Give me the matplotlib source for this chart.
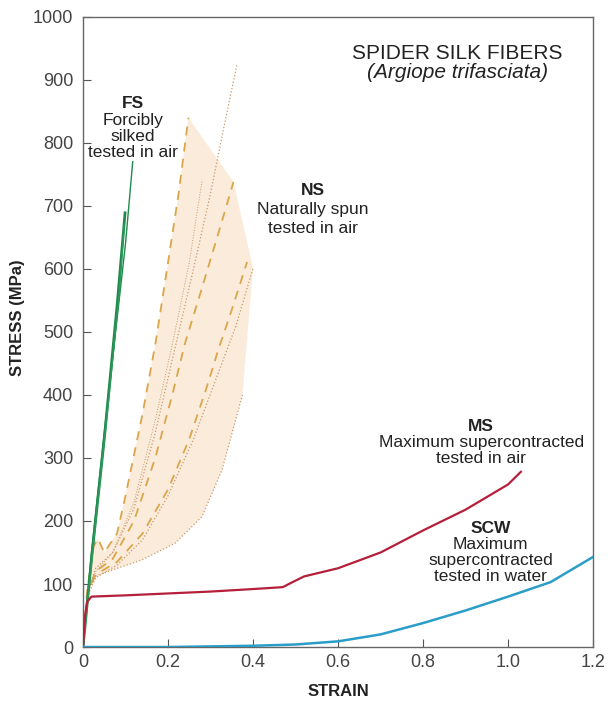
import numpy as np
import matplotlib.pyplot as plt

plt.rcParams['font.family'] = ['Liberation Sans', 'DejaVu Sans']

# FS - forcibly silked (green)
fs1_x = [0, 0.02, 0.05, 0.08, 0.10, 0.117]
fs1_y = [0, 150, 340, 520, 640, 770]
fs2_x = [0, 0.02, 0.05, 0.08, 0.099]
fs2_y = [0, 140, 330, 540, 689]
fs3_x = [0, 0.03, 0.06, 0.085, 0.097]
fs3_y = [0, 200, 390, 560, 670]

# NS - naturally spun (orange band)
ns1_x = [0, 0.01, 0.025, 0.035, 0.05, 0.08, 0.10, 0.14, 0.17, 0.20, 0.225, 0.248]
ns1_y = [0, 90, 160, 172, 150, 180, 240, 370, 480, 610, 720, 840]
ns2_x = [0, 0.01, 0.03, 0.07, 0.12, 0.17, 0.217, 0.26, 0.30, 0.33, 0.362]
ns2_y = [0, 85, 125, 150, 220, 340, 476, 600, 720, 820, 924]
ns3_x = [0, 0.01, 0.03, 0.07, 0.12, 0.17, 0.21, 0.25, 0.28]
ns3_y = [0, 85, 120, 150, 230, 360, 480, 610, 740]
ns4_x = [0, 0.01, 0.03, 0.07, 0.12, 0.17, 0.21, 0.24, 0.28, 0.32, 0.354]
ns4_y = [0, 85, 120, 140, 200, 300, 400, 482, 570, 660, 738]
ns5_x = [0, 0.01, 0.03, 0.08, 0.14, 0.20, 0.25, 0.29, 0.318, 0.35, 0.386]
ns5_y = [0, 85, 115, 135, 180, 250, 330, 410, 471, 535, 611]
ns6_x = [0, 0.01, 0.03, 0.08, 0.14, 0.20, 0.26, 0.31, 0.36, 0.40]
ns6_y = [0, 80, 110, 130, 170, 240, 330, 420, 510, 601]
ns7_x = [0, 0.0125, 0.028, 0.068, 0.138, 0.217, 0.28, 0.327, 0.375]
ns7_y = [0, 90, 112, 122, 138, 165, 207, 281, 400]

# MS - maximum supercontracted in air (red)
ms_x = [0, 0.005, 0.01, 0.02, 0.1, 0.2, 0.3, 0.4, 0.47, 0.49, 0.52, 0.6, 0.7, 0.8, 0.9, 1.0, 1.03]
ms_y = [0, 50, 72, 80, 82, 85, 88, 92, 95, 102, 112, 125, 150, 185, 218, 258, 278]

# SCW - maximum supercontracted in water (blue)
scw_x = [0, 0.1, 0.2, 0.3, 0.4, 0.5, 0.6, 0.7, 0.8, 0.9, 1.0, 1.1, 1.2]
scw_y = [0, 0, 0, 1, 2, 4, 9, 20, 38, 58, 80, 103, 143]

xticks = [0, 0.2, 0.4, 0.6, 0.8, 1.0, 1.2]
xtick_labels = ['0', '0.2', '0.4', '0.6', '0.8', '1.0', '1.2']

fig = plt.figure(figsize=(6.08, 7.01), dpi=100)
ax = fig.add_axes([0.1365, 0.077, 0.839, 0.899])

# shaded NS band
band_x = ns1_x + [ns4_x[-1], ns6_x[-1]] + ns7_x[::-1]
band_y = ns1_y + [ns4_y[-1], ns6_y[-1]] + ns7_y[::-1]
ax.fill(band_x, band_y, color='#f7d8b6', alpha=0.5, lw=0, zorder=1)

dash_c = '#dba64a'
dot_c = '#c99a6a'
ax.plot(ns1_x, ns1_y, '--', color=dash_c, lw=1.3, dashes=(5, 4), zorder=2)
ax.plot(ns4_x, ns4_y, '--', color=dash_c, lw=1.3, dashes=(5, 4), zorder=2)
ax.plot(ns5_x, ns5_y, '--', color=dash_c, lw=1.3, dashes=(5, 4), zorder=2)
ax.plot(ns2_x, ns2_y, ':', color=dot_c, lw=0.9, zorder=2)
ax.plot(ns3_x, ns3_y, ':', color=dot_c, lw=0.7, zorder=2)
ax.plot(ns6_x, ns6_y, ':', color=dot_c, lw=0.9, zorder=2)
ax.plot(ns7_x, ns7_y, ':', color=dot_c, lw=0.9, zorder=2)

ax.plot(fs1_x, fs1_y, color='#1f8a4c', lw=1.0, zorder=3)
ax.plot(fs2_x, fs2_y, color='#1f8a4c', lw=2.0, zorder=3)
ax.plot(fs3_x, fs3_y, color='#2e9a5a', lw=1.0, zorder=3)
ax.plot(ms_x, ms_y, color='#b51f3a', lw=1.6, zorder=3)
ax.plot(scw_x, scw_y, color='#2a9dc8', lw=1.8, zorder=3)

ax.set_xlim(0, 1.2)
ax.set_ylim(0, 1000)
ax.set_xticks(xticks)
ax.set_xticklabels(xtick_labels)
ax.set_yticks(range(0, 1001, 100))
ax.tick_params(direction='in', length=6, width=0.8, color='#555555',
               labelsize=13, labelcolor='#444444')
ax.tick_params(axis='x', pad=5)
ax.tick_params(axis='y', pad=7)
for s in ax.spines.values():
    s.set_color('#666666')
    s.set_linewidth(1.0)

ax.set_xlabel('STRAIN', fontsize=12, fontweight='bold', color='#222222')
ax.set_ylabel('STRESS (MPa)', fontsize=12, fontweight='bold', color='#222222')
ax.xaxis.set_label_coords(0.501, -0.058)
ax.yaxis.set_label_coords(-0.114, 0.522)

tc = '#222222'
ax.text(0.881, 942, 'SPIDER SILK FIBERS', ha='center', va='center', fontsize=15, color=tc)
ax.text(0.881, 912, '(Argiope trifasciata)', ha='center', va='center', fontsize=15,
        style='italic', color=tc)


def label_block(x, ys, lines):
    for i, (y, t) in enumerate(zip(ys, lines)):
        ax.text(x, y, t, ha='center', va='center', fontsize=12.5, color=tc,
                fontweight='bold' if i == 0 else 'normal', zorder=4)


label_block(0.118, [862, 836, 810, 784], ['FS', 'Forcibly', 'silked', 'tested in air'])
label_block(0.541, [725, 694, 664], ['NS', 'Naturally spun', 'tested in air'])
label_block(0.937, [350, 324, 299], ['MS', 'Maximum supercontracted', 'tested in air'])
label_block(0.959, [188, 163, 138, 112],
            ['SCW', 'Maximum', 'supercontracted', 'tested in water'])

fig.savefig('out.png', dpi=100)
